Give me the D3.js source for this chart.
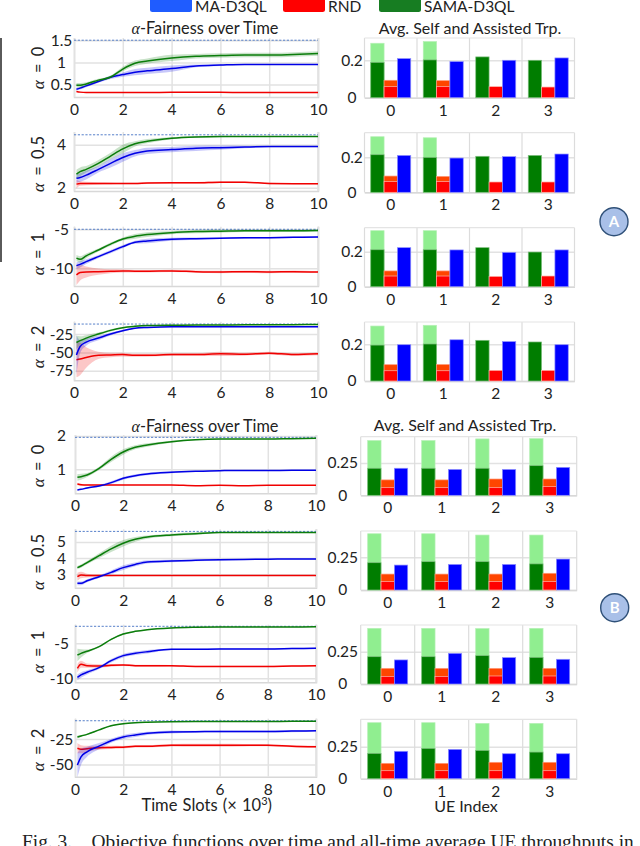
<!DOCTYPE html>
<html>
<head>
<meta charset="utf-8">
<script src="https://cdnjs.cloudflare.com/ajax/libs/d3/7.8.5/d3.min.js"></script>
<style>
  html, body { margin: 0; padding: 0; background: #fff; overflow: hidden; }
  text { font-family: Lato, "Open Sans", sans-serif; fill: #222; }
  .caption { font-family: "Liberation Serif", serif; }
  .greek { font-family: "Liberation Serif", serif; font-style: italic; }
</style>
</head>
<body>
<svg id="chart" width="640" height="846"></svg>
<script>
// time axis (x 10^3 slots) shared by every line panel
const slots = [0.1, 0.25, 0.5, 1, 1.5, 2, 2.5, 3, 4, 5, 6, 7, 8, 9, 10];
const slotTicks = [0, 2, 4, 6, 8, 10];
const ueIndex = ["0", "1", "2", "3"];
const colors = ["SAMA", "RND", "MA"];

// Group A, alpha = 0
const a0Sama = [0.485, 0.485, 0.515, 0.6, 0.67, 0.85, 0.98, 1.03, 1.1, 1.14, 1.155, 1.165, 1.165, 1.18, 1.2];
const a0Ma = [0.395, 0.42, 0.47, 0.57, 0.665, 0.725, 0.78, 0.81, 0.86, 0.92, 0.94, 0.955, 0.955, 0.955, 0.955];
const a0Rnd = [0.345, 0.33, 0.32, 0.32, 0.32, 0.32, 0.32, 0.32, 0.325, 0.325, 0.325, 0.32, 0.32, 0.32, 0.32];
const a0SamaSd = [0.05, 0.05, 0.04, 0.03, 0.03, 0.05, 0.06, 0.06, 0.07, 0.05, 0.05, 0.05, 0.05, 0.05, 0.05];
const a0MaSd = [0.03, 0.03, 0.03, 0.03, 0.04, 0.05, 0.07, 0.07, 0.07, 0.03, 0.02, 0.01, 0.01, 0.01, 0.01];
const a0RndSd = [0.02, 0.01, 0.01, 0.01, 0.01, 0.01, 0.01, 0.01, 0.01, 0.01, 0.01, 0.01, 0.01, 0.01, 0.01];
// Group A, alpha = 0.5
const a1Sama = [2.64, 2.75, 2.86, 3.14, 3.48, 3.81, 4.05, 4.17, 4.31, 4.37, 4.39, 4.39, 4.39, 4.39, 4.39];
const a1Ma = [2.44, 2.48, 2.59, 2.86, 3.14, 3.41, 3.61, 3.72, 3.78, 3.84, 3.87, 3.9, 3.92, 3.92, 3.92];
const a1Rnd = [2.17, 2.2, 2.2, 2.2, 2.2, 2.2, 2.2, 2.22, 2.23, 2.23, 2.26, 2.26, 2.2, 2.19, 2.19];
const a1SamaSd = [0.2, 0.2, 0.15, 0.15, 0.15, 0.2, 0.12, 0.1, 0.05, 0.04, 0.03, 0.02, 0.02, 0.02, 0.02];
const a1MaSd = [0.2, 0.2, 0.2, 0.15, 0.2, 0.2, 0.15, 0.15, 0.12, 0.12, 0.1, 0.06, 0.03, 0.03, 0.03];
const a1RndSd = [0.2, 0.1, 0.08, 0.06, 0.05, 0.04, 0.04, 0.04, 0.04, 0.04, 0.04, 0.03, 0.03, 0.03, 0.03];
// Group A, alpha = 1
const a2Sama = [-8.7, -8.85, -8.4, -7.65, -6.9, -6.25, -5.9, -5.68, -5.43, -5.3, -5.25, -5.2, -5.2, -5.2, -5.17];
const a2Ma = [-9.66, -9.5, -9.15, -8.5, -7.86, -7.22, -6.67, -6.5, -6.28, -6.2, -6.15, -6.1, -6.08, -6.03, -6.0];
const a2Rnd = [-10.85, -10.55, -10.47, -10.43, -10.38, -10.34, -10.38, -10.38, -10.34, -10.43, -10.47, -10.43, -10.47, -10.43, -10.47];
const a2SamaSd = [0.4, 0.4, 0.3, 0.2, 0.2, 0.2, 0.3, 0.3, 0.2, 0.2, 0.2, 0.15, 0.15, 0.15, 0.1];
const a2MaSd = [0.4, 0.4, 0.3, 0.2, 0.2, 0.2, 0.2, 0.3, 0.2, 0.15, 0.1, 0.1, 0.1, 0.1, 0.1];
const a2RndSd = [1.3, 1.0, 0.7, 0.4, 0.25, 0.2, 0.15, 0.15, 0.15, 0.15, 0.15, 0.15, 0.15, 0.15, 0.1];
// Group A, alpha = 2
const a3Sama = [-36.5, -34, -30.5, -25, -20, -16.3, -14.5, -13.5, -13, -12.8, -12.6, -12.5, -12.4, -12.2, -12];
const a3Ma = [-53.5, -42, -36, -30.5, -25, -20.5, -17, -16, -15, -15, -15, -15, -15, -15, -15];
const a3Rnd = [-60, -59, -57, -54, -53.5, -53, -54, -54, -53, -53, -52, -52.5, -51, -53, -52];
const a3SamaSd = [9, 6, 4, 2, 1.5, 1, 1, 0.5, 0.5, 0.5, 0.5, 0.5, 0.5, 0.5, 0.5];
const a3MaSd = [27, 9, 5, 3, 2, 1.5, 1, 1, 0.7, 0.7, 0.7, 0.7, 0.7, 0.7, 0.7];
const a3RndSd = [24, 22, 14, 5, 3, 2.5, 2, 2, 2, 2, 3, 2, 2, 2, 2];

// Group B, alpha = 0
const b0Sama = [0.76, 0.78, 0.83, 1.03, 1.3, 1.52, 1.66, 1.73, 1.83, 1.89, 1.91, 1.91, 1.91, 1.92, 1.93];
const b0Ma = [0.38, 0.4, 0.44, 0.5, 0.6, 0.73, 0.81, 0.86, 0.91, 0.94, 0.96, 0.965, 0.965, 0.97, 0.97];
const b0Rnd = [0.56, 0.54, 0.53, 0.53, 0.53, 0.53, 0.53, 0.53, 0.53, 0.51, 0.52, 0.51, 0.52, 0.52, 0.52];
const b0SamaSd = [0.1, 0.09, 0.06, 0.05, 0.08, 0.08, 0.06, 0.05, 0.03, 0.02, 0.01, 0.01, 0.01, 0.01, 0.01];
const b0MaSd = [0.02, 0.02, 0.02, 0.03, 0.04, 0.04, 0.04, 0.04, 0.03, 0.02, 0.02, 0.01, 0.01, 0.01, 0.01];
const b0RndSd = [0.04, 0.03, 0.02, 0.01, 0.01, 0.01, 0.01, 0.01, 0.01, 0.01, 0.01, 0.01, 0.01, 0.01, 0.01];
// Group B, alpha = 0.5
const b1Sama = [3.41, 3.51, 3.72, 4.15, 4.57, 4.92, 5.16, 5.3, 5.43, 5.51, 5.58, 5.58, 5.58, 5.58, 5.58];
const b1Ma = [2.44, 2.44, 2.6, 2.85, 3.12, 3.41, 3.61, 3.76, 3.82, 3.86, 3.9, 3.92, 3.93, 3.95, 3.95];
const b1Rnd = [2.85, 2.96, 2.92, 2.92, 2.92, 2.92, 2.92, 2.92, 2.92, 2.92, 2.92, 2.93, 2.92, 2.92, 2.92];
const b1SamaSd = [0.1, 0.1, 0.1, 0.15, 0.2, 0.2, 0.15, 0.1, 0.08, 0.08, 0.03, 0.03, 0.03, 0.03, 0.03];
const b1MaSd = [0.12, 0.12, 0.1, 0.08, 0.12, 0.15, 0.12, 0.1, 0.08, 0.06, 0.06, 0.04, 0.03, 0.03, 0.03];
const b1RndSd = [0.25, 0.2, 0.12, 0.06, 0.04, 0.03, 0.03, 0.03, 0.03, 0.03, 0.03, 0.03, 0.03, 0.03, 0.03];
// Group B, alpha = 1
const b2Sama = [-6.67, -6.43, -6.14, -5.48, -4.43, -3.67, -3.29, -3.05, -2.8, -2.7, -2.66, -2.66, -2.66, -2.66, -2.62];
const b2Ma = [-9.86, -9.52, -9.14, -8.48, -7.48, -6.76, -6.43, -6.2, -5.86, -5.86, -5.8, -5.8, -5.8, -5.75, -5.7];
const b2Rnd = [-8.57, -8, -8.2, -8.24, -8.15, -8.1, -8.2, -8.2, -8.2, -8.3, -8.3, -8.3, -8.3, -8.24, -8.2];
const b2SamaSd = [0.9, 0.6, 0.25, 0.1, 0.1, 0.1, 0.08, 0.05, 0.05, 0.05, 0.05, 0.05, 0.05, 0.05, 0.05];
const b2MaSd = [0.4, 0.4, 0.3, 0.2, 0.25, 0.25, 0.25, 0.25, 0.1, 0.1, 0.1, 0.1, 0.1, 0.1, 0.1];
const b2RndSd = [0.6, 0.5, 0.3, 0.25, 0.2, 0.15, 0.15, 0.15, 0.1, 0.1, 0.1, 0.1, 0.1, 0.1, 0.1];
// Group B, alpha = 2
const b3Sama = [-23, -22, -20.4, -16, -12, -10, -9, -8.5, -8, -7.8, -7.7, -7.7, -7.7, -7.6, -7.6];
const b3Ma = [-50.6, -42.5, -37.5, -32, -26.6, -23, -21, -19.4, -18, -17.8, -17.5, -17.5, -17.5, -17.2, -16.8];
const b3Rnd = [-34, -35, -34.5, -33.5, -33.2, -33, -32, -32, -31, -31, -31, -31, -31, -32, -32.5];
const b3SamaSd = [1.5, 1, 0.7, 0.5, 0.5, 0.5, 0.3, 0.3, 0.3, 0.3, 0.3, 0.3, 0.3, 0.3, 0.3];
const b3MaSd = [12, 8, 5, 3, 2, 2, 2, 1.5, 1.5, 1, 1, 1, 1, 1, 0.7];
const b3RndSd = [5, 4, 3, 2, 1.5, 1.2, 1.2, 1.2, 1.2, 1.5, 1.5, 1.2, 1, 1, 1];

// bars: solid part, stacked total (self + assisted) and MA per UE
const ca0Sama = [0.189, 0.202, 0.218, 0.2], ca0SamaTot = [0.291, 0.3, 0, 0];
const ca0Rnd = [0.059, 0.059, 0.059, 0.057], ca0RndTot = [0.093, 0.091, 0, 0], ca0Ma = [0.209, 0.193, 0.2, 0.2125];
const ca1Sama = [0.215, 0.2, 0.206, 0.211], ca1SamaTot = [0.318, 0.312, 0, 0];
const ca1Rnd = [0.061, 0.061, 0.059, 0.059], ca1RndTot = [0.093, 0.091, 0, 0], ca1Ma = [0.211, 0.196, 0.204, 0.219];
const ca2Sama = [0.211, 0.211, 0.223, 0.198], ca2SamaTot = [0.32, 0.32, 0, 0];
const ca2Rnd = [0.061, 0.061, 0.059, 0.061], ca2RndTot = [0.09, 0.09, 0, 0], ca2Ma = [0.223, 0.21, 0.196, 0.21];
const ca3Sama = [0.196, 0.202, 0.222, 0.213], ca3SamaTot = [0.3, 0.304, 0, 0];
const ca3Rnd = [0.056, 0.056, 0.058, 0.058], ca3RndTot = [0.089, 0.09, 0, 0], ca3Ma = [0.198, 0.225, 0.215, 0.198];

const cb0Sama = [0.209, 0.209, 0.209, 0.229], cb0SamaTot = [0.423, 0.423, 0.436, 0.438];
const cb0Rnd = [0.059, 0.059, 0.059, 0.067], cb0RndTot = [0.119, 0.119, 0.126, 0.126], cb0Ma = [0.209, 0.2, 0.2, 0.216];
const cb1Sama = [0.209, 0.217, 0.217, 0.2], cb1SamaTot = [0.431, 0.431, 0.421, 0.421];
const cb1Rnd = [0.064, 0.064, 0.064, 0.064], cb1RndTot = [0.122, 0.122, 0.122, 0.128], cb1Ma = [0.191, 0.196, 0.196, 0.237];
const cb2Sama = [0.211, 0.211, 0.219, 0.206], cb2SamaTot = [0.43, 0.43, 0.428, 0.43];
const cb2Rnd = [0.059, 0.059, 0.062, 0.062], cb2RndTot = [0.121, 0.121, 0.121, 0.121], cb2Ma = [0.186, 0.237, 0.204, 0.191];
const cb3Sama = [0.198, 0.237, 0.221, 0.208], cb3SamaTot = [0.4375, 0.4375, 0.432, 0.432];
const cb3Rnd = [0.0625, 0.0625, 0.0625, 0.0625], cb3RndTot = [0.12, 0.12, 0.128, 0.128], cb3Ma = [0.214, 0.229, 0.195, 0.195];

const fill = { SAMA: "#0b7d0b", RND: "#f00000", MA: "#0000e6" };
const grid = "#e2e2e2";
const svg = d3.select("#chart");

function styleAxis(g) {
  g.select(".domain").attr("stroke", "#d8d8d8").attr("stroke-width", 1.5);
  g.selectAll("line").attr("stroke", grid).attr("stroke-width", 1.5);
  g.selectAll("text").attr("font-size", 15.5).attr("fill", "#222").attr("font-family", 'Lato, "Open Sans", sans-serif');
}

function alphaLabel(x, y, value) {
  const t = svg.append("text")
    .attr("transform", `translate(${x},${y}) rotate(-90)`)
    .attr("text-anchor", "middle")
    .attr("font-size", 17);
  t.append("tspan").attr("class", "greek").text("α");
  t.append("tspan").attr("font-size", 16.5).style("word-spacing", "3px").text(` = ${value}`);
}

function linePanel(p) {
  const x = d3.scaleLinear().domain([0, 10]).range([p.left, p.right]);
  const y = d3.scaleLinear().domain(p.yDomain).range([p.bottom, p.top]);

  // axes double as the grid
  svg.append("g")
    .attr("transform", `translate(0,${p.bottom})`)
    .call(d3.axisBottom(x).tickValues(slotTicks).tickSize(p.top - p.bottom))
    .call(styleAxis)
    .call(g => g.selectAll("text").attr("y", 7).attr("dy", "0.71em"));
  svg.append("g")
    .attr("transform", `translate(${p.left},0)`)
    .call(d3.axisLeft(y).tickValues(p.yTicks).tickSize(p.left - p.right).tickFormat(d => d))
    .call(styleAxis)
    .call(g => g.select(".domain").attr("stroke", "none"))
    .call(g => g.selectAll("text").attr("x", 61.5 - p.left).attr("text-anchor", "middle"));
  svg.append("line")
    .attr("x1", p.right).attr("x2", p.right)
    .attr("y1", p.top).attr("y2", p.bottom)
    .attr("stroke", grid).attr("stroke-width", 1.5);

  svg.append("line")
    .attr("x1", x(0)).attr("x2", x(10))
    .attr("y1", y(p.ref)).attr("y2", y(p.ref))
    .attr("stroke", "#4472c4").attr("stroke-width", 0.9).attr("stroke-dasharray", "2.2,1.6");

  [["RND", p.rnd, p.rndSd], ["MA", p.ma, p.maSd], ["SAMA", p.sama, p.samaSd]].forEach(([name, values, sd]) => {
    const area = d3.area()
      .x((d, i) => x(slots[i]))
      .y0((d, i) => y(d - sd[i]))
      .y1((d, i) => y(d + sd[i]))
      .curve(d3.curveMonotoneX);
    const line = d3.line()
      .x((d, i) => x(slots[i]))
      .y(d => y(d))
      .curve(d3.curveMonotoneX);
    svg.append("path").datum(values)
      .attr("d", area)
      .attr("fill", fill[name]).attr("opacity", 0.22);
    svg.append("path").datum(values)
      .attr("d", line)
      .attr("fill", "none").attr("stroke", fill[name]).attr("stroke-width", 1.5);
  });

  alphaLabel(p.labelX, p.labelY, p.alpha);
}

function barPanel(p) {
  const x = d3.scaleBand().domain(ueIndex).range([p.left, p.right]);
  const sub = d3.scaleBand().domain(colors).range([-20, 20]);
  const y = d3.scaleLinear().domain(p.yDomain).range([p.bottom, p.top]);

  svg.append("g")
    .attr("transform", `translate(${p.left},0)`)
    .call(d3.axisLeft(y).tickValues(p.yTicks).tickSize(p.left - p.right).tickFormat(d => d))
    .call(styleAxis)
    .call(g => g.select(".domain").attr("stroke", "none"))
    .call(g => g.selectAll("text").attr("x", p.tickX - p.left).attr("text-anchor", "middle"));
  svg.append("g")
    .attr("transform", `translate(0,${p.bottom})`)
    .call(d3.axisBottom(x).tickSize(0))
    .call(styleAxis)
    .call(g => g.selectAll("text").attr("y", 7).attr("dy", "0.71em"));

  // cell frames between UE groups
  svg.append("g").selectAll("line")
    .data([...ueIndex.map(d => x(d)), p.right])
    .join("line")
    .attr("x1", d => d).attr("x2", d => d)
    .attr("y1", p.top).attr("y2", p.bottom)
    .attr("stroke", "#dcdcdc").attr("stroke-width", 1.2);
  svg.append("line")
    .attr("x1", p.left).attr("x2", p.right)
    .attr("y1", p.top).attr("y2", p.top)
    .attr("stroke", "#e4e4e4").attr("stroke-width", 1.2);

  const w = sub.bandwidth();
  const cx = d => x(d) + x.bandwidth() / 2;
  const bars = (values, series, color, stroke) => {
    svg.append("g").selectAll("rect")
      .data(ueIndex.map((d, i) => ({ d, v: values[i] })).filter(b => b.v > 0))
      .join("rect")
      .attr("x", b => cx(b.d) + sub(series))
      .attr("width", w)
      .attr("y", b => y(b.v))
      .attr("height", b => y(0) - y(b.v))
      .attr("fill", color)
      .attr("stroke", stroke).attr("stroke-width", 0.7);
  };
  bars(p.samaTot, "SAMA", "#90ee90", "#b5f0b5");
  bars(p.sama, "SAMA", "#007d00", "#7fbf7f");
  bars(p.rndTot, "RND", "#ff4500", "#ff9a7a");
  bars(p.rnd, "RND", "#ff0000", "#ffb3a8");
  bars(p.ma, "MA", "#0000ff", "#8f8fff");
}

// figure furniture
svg.append("rect").attr("x", 0).attr("y", 38).attr("width", 2).attr("height", 224).attr("fill", "#5a5a5a");

const legend = [
  { label: "MA-D3QL", x: 150, color: "#1f5cff" },
  { label: "RND", x: 283, color: "#ff0000" },
  { label: "SAMA-D3QL", x: 379, color: "#177d22" }
];
svg.append("g").selectAll("rect").data(legend).join("rect")
  .attr("x", d => d.x).attr("y", -2).attr("width", 42).attr("height", 14).attr("rx", 2.5)
  .attr("fill", d => d.color);
svg.append("g").selectAll("text").data(legend).join("text")
  .attr("x", d => d.x + 45).attr("y", 12).attr("font-size", 15.5).text(d => d.label);

function lineTitle(cx, cy) {
  const t = svg.append("text").attr("x", cx).attr("y", cy).attr("text-anchor", "middle").attr("font-size", 16.3);
  t.append("tspan").attr("class", "greek").attr("font-size", 16).text("α");
  t.append("tspan").text("-Fairness over Time");
}
lineTitle(205, 34);
lineTitle(205, 432);
svg.append("text").attr("x", 470).attr("y", 34).attr("text-anchor", "middle").attr("font-size", 16).text("Avg. Self and Assisted Trp.");
svg.append("text").attr("x", 465).attr("y", 431).attr("text-anchor", "middle").attr("font-size", 16).text("Avg. Self and Assisted Trp.");

const lineBoxA = { left: 74, right: 318, labelX: 44 };
const lineBoxB = { left: 75, right: 316, labelX: 44 };
[
  { ...lineBoxA, top: 38, bottom: 97, labelY: 68, alpha: "0", yDomain: [0.22, 1.55], yTicks: [0.5, 1, 1.5], ref: 1.5, sama: a0Sama, ma: a0Ma, rnd: a0Rnd, samaSd: a0SamaSd, maSd: a0MaSd, rndSd: a0RndSd },
  { ...lineBoxA, top: 132, bottom: 191, labelY: 164, alpha: "0.5", yDomain: [1.85, 4.6], yTicks: [2, 4], ref: 4.47, sama: a1Sama, ma: a1Ma, rnd: a1Rnd, samaSd: a1SamaSd, maSd: a1MaSd, rndSd: a1RndSd },
  { ...lineBoxA, top: 226.7, bottom: 286, labelY: 254, alpha: "1", yDomain: [-12.27, -4.67], yTicks: [-10, -5], ref: -5, sama: a2Sama, ma: a2Ma, rnd: a2Rnd, samaSd: a2SamaSd, maSd: a2MaSd, rndSd: a2RndSd },
  { ...lineBoxA, top: 321.7, bottom: 380.3, labelY: 347, alpha: "2", yDomain: [-88, -8.2], yTicks: [-75, -50, -25], ref: -11.4, sama: a3Sama, ma: a3Ma, rnd: a3Rnd, samaSd: a3SamaSd, maSd: a3MaSd, rndSd: a3RndSd },
  { ...lineBoxB, top: 435, bottom: 493.3, labelY: 466, alpha: "0", yDomain: [0.28, 2.03], yTicks: [1, 2], ref: 1.96, sama: b0Sama, ma: b0Ma, rnd: b0Rnd, samaSd: b0SamaSd, maSd: b0MaSd, rndSd: b0RndSd },
  { ...lineBoxB, top: 529.3, bottom: 587.7, labelY: 562, alpha: "0.5", yDomain: [2.17, 5.78], yTicks: [3, 4, 5], ref: 5.65, sama: b1Sama, ma: b1Ma, rnd: b1Rnd, samaSd: b1SamaSd, maSd: b1MaSd, rndSd: b1RndSd },
  { ...lineBoxB, top: 624.7, bottom: 682.3, labelY: 652, alpha: "1", yDomain: [-10.57, -2.34], yTicks: [-10, -5], ref: -2.57, sama: b2Sama, ma: b2Ma, rnd: b2Rnd, samaSd: b2SamaSd, maSd: b2MaSd, rndSd: b2RndSd },
  { ...lineBoxB, top: 718.7, bottom: 776.7, labelY: 750, alpha: "2", yDomain: [-62, -5], yTicks: [-50, -25], ref: -7, sama: b3Sama, ma: b3Ma, rnd: b3Rnd, samaSd: b3SamaSd, maSd: b3MaSd, rndSd: b3RndSd }
].forEach(linePanel);

const barBoxA = { left: 364.5, right: 574.5, tickX: 352, yTicks: [0, 0.2] };
const barBoxB = { left: 360.7, right: 576.7, tickX: 342.7, yTicks: [0, 0.25] };
[
  { ...barBoxA, top: 38, bottom: 97.7, yDomain: [0, 0.319], sama: ca0Sama, samaTot: ca0SamaTot, rnd: ca0Rnd, rndTot: ca0RndTot, ma: ca0Ma },
  { ...barBoxA, top: 132.7, bottom: 192.3, yDomain: [0, 0.341], sama: ca1Sama, samaTot: ca1SamaTot, rnd: ca1Rnd, rndTot: ca1RndTot, ma: ca1Ma },
  { ...barBoxA, top: 227.7, bottom: 286.7, yDomain: [0, 0.337], sama: ca2Sama, samaTot: ca2SamaTot, rnd: ca2Rnd, rndTot: ca2RndTot, ma: ca2Ma },
  { ...barBoxA, top: 322, bottom: 381, yDomain: [0, 0.322], sama: ca3Sama, samaTot: ca3SamaTot, rnd: ca3Rnd, rndTot: ca3RndTot, ma: ca3Ma },
  { ...barBoxB, top: 436.7, bottom: 495.3, yDomain: [0, 0.453], sama: cb0Sama, samaTot: cb0SamaTot, rnd: cb0Rnd, rndTot: cb0RndTot, ma: cb0Ma },
  { ...barBoxB, top: 531, bottom: 590, yDomain: [0, 0.452], sama: cb1Sama, samaTot: cb1SamaTot, rnd: cb1Rnd, rndTot: cb1RndTot, ma: cb1Ma },
  { ...barBoxB, top: 625, bottom: 684, yDomain: [0, 0.456], sama: cb2Sama, samaTot: cb2SamaTot, rnd: cb2Rnd, rndTot: cb2RndTot, ma: cb2Ma },
  { ...barBoxB, top: 719.3, bottom: 778.7, yDomain: [0, 0.464], sama: cb3Sama, samaTot: cb3SamaTot, rnd: cb3Rnd, rndTot: cb3RndTot, ma: cb3Ma }
].forEach(barPanel);

// axis names
const xName = svg.append("text").attr("x", 206.7).attr("y", 811).attr("text-anchor", "middle").attr("font-size", 16.5);
xName.append("tspan").style("word-spacing", "1px").text("Time Slots (× 10");
xName.append("tspan").attr("font-size", 11).attr("dy", -6).text("3");
xName.append("tspan").attr("dy", 6).text(")");
svg.append("text").attr("x", 466).attr("y", 812).attr("text-anchor", "middle").attr("font-size", 16).text("UE Index");

// group badges
[{ label: "A", x: 614, y: 221.7 }, { label: "B", x: 614.7, y: 607.7 }].forEach(b => {
  svg.append("circle").attr("cx", b.x).attr("cy", b.y).attr("r", 14)
    .attr("fill", "#a9c0e8").attr("stroke", "#2f5078").attr("stroke-width", 1.4);
  svg.append("text").attr("x", b.x).attr("y", b.y + 5.5).attr("text-anchor", "middle")
    .attr("font-size", 15).attr("font-weight", 700).style("fill", "#fff").text(b.label);
});

svg.append("text").attr("class", "caption").attr("x", 22).attr("y", 847.5)
  .attr("font-size", 19.4)
  .text("Fig. 3.\u2003Objective functions over time and all-time average UE throughputs in");
</script>
</body>
</html>
